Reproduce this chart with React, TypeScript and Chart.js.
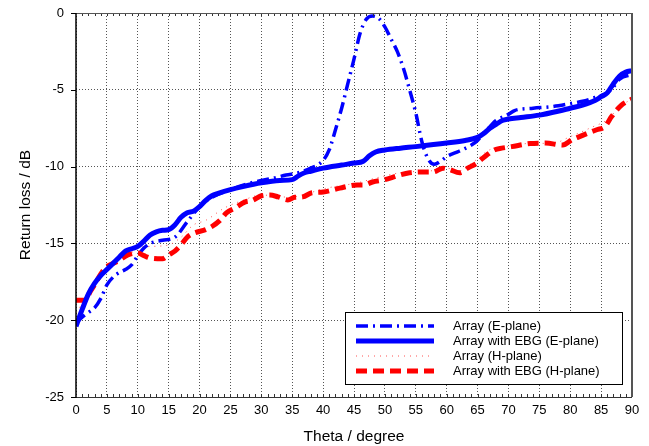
import React, { useEffect, useRef } from "react";
import { Chart, registerables } from "chart.js";

Chart.register(...registerables);

// ---- Data ----
const thetaTicks = [0, 5, 10, 15, 20, 25, 30, 35, 40, 45, 50, 55, 60, 65, 70, 75, 80, 85, 90];
const lossTicks = [-25, -20, -15, -10, -5, 0];

const seriesNames = [
  "Array (E-plane)",
  "Array with EBG (E-plane)",
  "Array (H-plane)",
  "Array with EBG (H-plane)",
];

const arrayETheta = [0, 1, 2, 3, 4, 5, 6, 7, 8, 9, 10, 11, 12, 14, 16, 18, 20, 22, 25, 28, 30, 32, 34, 36, 38, 40, 41, 42, 43, 44, 45, 46, 47, 48, 49, 50, 51, 52, 53, 54, 55, 56, 57, 58, 59, 60, 62, 64, 65, 66, 67, 68, 70, 71, 74, 77, 80, 82, 84, 86, 87, 88, 90];
const arrayELoss = [-20.2, -19.8, -19.5, -19.2, -18.6, -17.7, -17.2, -16.9, -16.7, -16.4, -15.8, -15.3, -15.0, -14.8, -14.6, -13.6, -12.6, -12.0, -11.5, -11.1, -10.9, -10.75, -10.55, -10.4, -10.1, -9.6, -8.9, -7.6, -6.2, -4.6, -3.0, -1.3, -0.4, -0.2, -0.35, -0.9, -1.7, -2.5, -3.6, -5.0, -6.5, -8.4, -9.5, -9.85, -9.65, -9.35, -9.0, -8.6, -8.3, -7.8, -7.4, -7.0, -6.6, -6.35, -6.2, -6.1, -5.9, -5.75, -5.5, -5.2, -4.8, -4.3, -4.0];

const ebgETheta = [0, 1, 2, 3, 4, 5, 6, 7, 8, 9, 10, 11, 12, 13, 14, 15, 16, 17, 18, 19, 20, 21, 22, 23, 25, 27, 30, 33, 35, 36, 37, 38, 40, 43, 45, 46.5, 47.5, 48.5, 50, 52.5, 55, 60, 63, 65, 66, 67, 68, 69, 70, 72, 75, 78, 80, 82, 84, 85, 86, 87, 88, 89, 90];
const ebgELoss = [-20.4, -19.3, -18.3, -17.6, -17.1, -16.7, -16.3, -15.9, -15.5, -15.35, -15.2, -14.85, -14.45, -14.25, -14.15, -14.1, -13.8, -13.3, -13.0, -12.9, -12.6, -12.2, -11.9, -11.75, -11.5, -11.3, -11.05, -10.9, -10.85, -10.6, -10.4, -10.3, -10.1, -9.9, -9.77, -9.65, -9.3, -9.05, -8.92, -8.8, -8.7, -8.47, -8.3, -8.1, -7.85, -7.5, -7.25, -7.0, -6.9, -6.8, -6.65, -6.4, -6.2, -6.0, -5.7, -5.45, -5.2, -4.6, -4.1, -3.85, -3.75];

const arrayHTheta = [0, 2, 3, 5, 7, 9, 10, 12, 15, 17, 19, 21, 24, 27, 30, 32, 34.6, 37, 40.6, 45.5, 49, 53.5, 57, 60, 62, 64, 67, 70, 74, 77, 80, 83.7, 86, 88, 90];
const arrayHLoss = [-19.5, -18.3, -17.6, -16.6, -16.0, -15.6, -15.3, -15.2, -15.1, -14.6, -13.8, -13.5, -12.7, -12.2, -11.85, -11.9, -12.0, -11.8, -11.4, -11.06, -10.7, -10.35, -10.3, -10.1, -10.3, -9.8, -8.9, -8.7, -8.47, -8.5, -8.05, -7.4, -6.95, -6.1, -5.6];

const ebgHTheta = [0, 1.8, 2, 3, 4, 5, 6, 7, 8.4, 10, 11, 12, 14, 15, 16, 17, 18, 19, 21, 22, 23.3, 24.4, 25.7, 27.4, 28.6, 30, 31.4, 32.7, 34.3, 35.4, 36.7, 38.2, 40, 42.7, 45.5, 46.5, 48, 50, 52, 54, 56.8, 57.8, 59.4, 60.5, 62.1, 63.4, 64.9, 66.5, 67.8, 68.9, 70.5, 73.5, 76, 78.8, 80.3, 81.5, 83, 84.3, 85.6, 86.7, 88.3, 90];
const ebgHLoss = [-18.7, -18.7, -18.4, -17.7, -17.0, -16.5, -16.3, -16.1, -15.75, -15.63, -15.8, -15.95, -16.0, -15.75, -15.5, -15.1, -14.6, -14.35, -14.1, -13.9, -13.5, -13.0, -12.7, -12.3, -12.2, -11.9, -11.85, -11.97, -12.17, -12.0, -11.97, -11.7, -11.65, -11.4, -11.2, -11.2, -11.0, -10.85, -10.6, -10.4, -10.35, -10.35, -10.1, -10.2, -10.4, -10.1, -9.77, -9.24, -8.9, -8.8, -8.7, -8.5, -8.47, -8.6, -8.25, -8.05, -7.8, -7.6, -7.4, -6.74, -6.0, -5.6];

const toPoints = (xs: number[], ys: number[]) => xs.map((x, i) => ({ x, y: ys[i] }));

const FONT = "'Liberation Sans', Arial, sans-serif";

const framePlugin = {
  id: "frame",
  afterDatasetsDraw(chart: any) {
    const { ctx, chartArea: a, scales } = chart;
    const xs = scales.x;
    const ys = scales.y;
    ctx.save();
    ctx.strokeStyle = "#333";
    ctx.lineWidth = 1;
    ctx.beginPath();
    for (let t = 1; t < 90; t++) {
      const px = Math.round(xs.getPixelForValue(t)) + 0.5;
      ctx.moveTo(px, a.top);
      ctx.lineTo(px, a.top + 3);
      ctx.moveTo(px, a.bottom);
      ctx.lineTo(px, a.bottom - 3);
    }
    ctx.stroke();
    ctx.strokeStyle = "#000";
    ctx.beginPath();
    for (const v of lossTicks) {
      const py = Math.round(ys.getPixelForValue(v)) + 0.5;
      ctx.moveTo(a.left - 5, py);
      ctx.lineTo(a.left, py);
    }
    ctx.stroke();
    ctx.strokeStyle = "#555";
    ctx.lineWidth = 1;
    ctx.beginPath();
    ctx.moveTo(a.left, a.top + 0.5);
    ctx.lineTo(a.right, a.top + 0.5);
    ctx.stroke();
    ctx.lineWidth = 2;
    ctx.beginPath();
    ctx.moveTo(a.right, a.top);
    ctx.lineTo(a.right, a.bottom);
    ctx.stroke();
    ctx.strokeStyle = "#333";
    ctx.lineWidth = 1;
    ctx.beginPath();
    ctx.moveTo(a.left, a.bottom + 0.5);
    ctx.lineTo(a.right, a.bottom + 0.5);
    ctx.stroke();
    ctx.strokeStyle = "#000";
    ctx.lineWidth = 1.5;
    ctx.beginPath();
    ctx.moveTo(a.left, a.top);
    ctx.lineTo(a.left, a.bottom + 1);
    ctx.stroke();
    ctx.restore();
  },
};

const legendPlugin = {
  id: "boxLegend",
  afterDraw(chart: any) {
    const { ctx } = chart;
    const bx = 345.5, by = 312.5, bw = 277, bh = 72;
    ctx.save();
    ctx.fillStyle = "#fff";
    ctx.fillRect(bx, by, bw, bh);
    ctx.strokeStyle = "#000";
    ctx.lineWidth = 1;
    ctx.strokeRect(bx, by, bw, bh);
    const rows = [326, 341, 356, 371];
    chart.data.datasets.forEach((ds: any) => {
      const legendIndex = seriesNames.indexOf(ds.label);
      const y = rows[legendIndex];
      ctx.save();
      ctx.strokeStyle = ds.borderColor;
      ctx.lineWidth = ds.borderWidth;
      ctx.setLineDash(ds.borderDash || []);
      ctx.beginPath();
      ctx.moveTo(356, y);
      ctx.lineTo(434, y);
      ctx.stroke();
      ctx.restore();
      ctx.fillStyle = "#000";
      ctx.font = `13px ${FONT}`;
      ctx.textBaseline = "middle";
      ctx.textAlign = "left";
      ctx.fillText(ds.label, 453, y + 0.5);
    });
    ctx.restore();
  },
};

export default function App() {
  const ref = useRef<HTMLCanvasElement>(null);
  useEffect(() => {
    if (!ref.current) return;
    const chart = new Chart(ref.current, {
      type: "line",
      data: {
        datasets: [
          {
            label: seriesNames[1],
            data: toPoints(ebgETheta, ebgELoss),
            borderColor: "#0000ff",
            borderWidth: 5,
            borderDash: [],
          },
          {
            label: seriesNames[3],
            data: toPoints(ebgHTheta, ebgHLoss),
            borderColor: "#ff0000",
            borderWidth: 5,
            borderDash: [11, 6],
          },
          {
            label: seriesNames[0],
            data: toPoints(arrayETheta, arrayELoss),
            borderColor: "#0000ff",
            borderWidth: 3.5,
            borderDash: [12, 5, 2, 5],
          },
          {
            label: seriesNames[2],
            data: toPoints(arrayHTheta, arrayHLoss),
            borderColor: "#ff5050",
            borderWidth: 1,
            borderDash: [1, 5],
          },
        ] as any,
      },
      options: {
        animation: false,
        responsive: false,
        maintainAspectRatio: false,
        layout: { padding: { left: 0, right: 17, top: 13, bottom: 0 } },
        elements: {
          point: { radius: 0 },
          line: { cubicInterpolationMode: "monotone", fill: false },
        },
        plugins: {
          legend: { display: false },
          tooltip: { enabled: false },
        },
        scales: {
          x: {
            type: "linear",
            min: 0,
            max: 90,
            afterBuildTicks: (s: any) => {
              s.ticks = thetaTicks.map((v) => ({ value: v }));
            },
            afterFit: (s: any) => {
              s.height = 49;
              s.paddingLeft = 0;
              s.paddingRight = 0;
            },
            ticks: {
              color: "#000",
              font: { family: FONT, size: 13 },
              padding: 6,
              maxRotation: 0,
              autoSkip: false,
            },
            grid: {
              color: "#555",
              lineWidth: 1,
              drawTicks: false,
            },
            border: { display: false, dash: [1, 2] },
            title: {
              display: true,
              text: "Theta / degree",
              color: "#000",
              font: { family: FONT, size: 15.5 },
              padding: { top: 8, bottom: 0 },
            },
          },
          y: {
            type: "linear",
            min: -25,
            max: 0,
            afterBuildTicks: (s: any) => {
              s.ticks = lossTicks.map((v) => ({ value: v }));
            },
            afterFit: (s: any) => {
              s.width = 76;
              s.paddingTop = 0;
              s.paddingBottom = 0;
            },
            ticks: {
              color: "#000",
              font: { family: FONT, size: 13 },
              padding: 12,
              autoSkip: false,
            },
            grid: {
              color: "#555",
              lineWidth: 1,
              drawTicks: false,
            },
            border: { display: false, dash: [1, 2] },
            title: {
              display: true,
              text: "Return loss / dB",
              color: "#000",
              font: { family: FONT, size: 15.5 },
              padding: { top: 16, bottom: 8 },
            },
          },
        },
      } as any,
      plugins: [framePlugin, legendPlugin],
    });
    return () => chart.destroy();
  }, []);
  return (
    <div style={{ position: "fixed", left: 0, top: 0, width: 649, height: 446, background: "#fff" }}>
      <canvas ref={ref} width={649} height={446} style={{ width: 649, height: 446, display: "block" }} />
    </div>
  );
}
